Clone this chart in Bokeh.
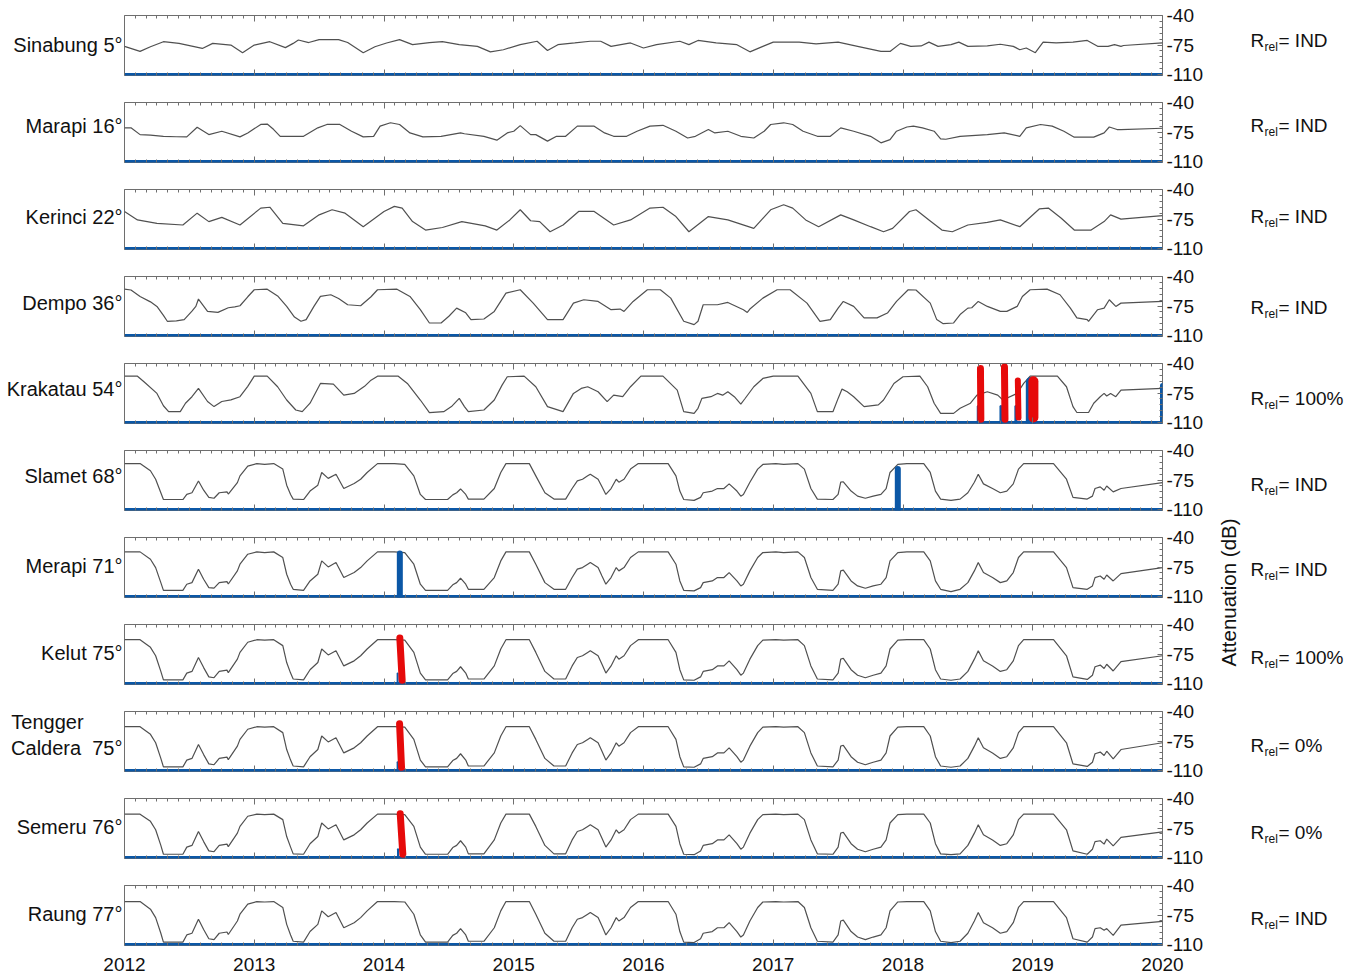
import math
from bokeh.plotting import figure
from bokeh.models import Range1d, FixedTicker, LinearAxis, Label, Span
from bokeh.layouts import column, row
from bokeh.embed import file_html
from bokeh.resources import INLINE

# ---------------- data ----------------
year_ticks = [2012, 2013, 2014, 2015, 2016, 2017, 2018, 2019, 2020]
year_labels = ["2012", "2013", "2014", "2015", "2016", "2017", "2018", "2019", "2020"]
db_ticks = [-110, -75, -40]
db_labels = ["-110", "-75", "-40"]
db_minor = [-103, -96, -89, -82, -68, -61, -54, -47]

names = ["Sinabung 5°", "Marapi 16°", "Kerinci 22°", "Dempo 36°", "Krakatau 54°", "Slamet 68°",
         "Merapi 71°", "Kelut 75°", "Tengger\nCaldera\u00a0 75°", "Semeru 76°", "Raung 77°"]
rrel_values = ["IND", "IND", "IND", "IND", "100%", "IND", "IND", "100%", "0%", "0%", "IND"]

sinabung_t = [2012.00, 2012.12, 2012.20, 2012.30, 2012.42, 2012.60, 2012.68, 2012.82, 2012.91, 2013.00, 2013.12, 2013.24,
              2013.30, 2013.34, 2013.42, 2013.50, 2013.65, 2013.72, 2013.84, 2013.93, 2014.02, 2014.12, 2014.22, 2014.35,
              2014.45, 2014.58, 2014.72, 2014.82, 2014.92, 2015.05, 2015.18, 2015.26, 2015.34, 2015.47, 2015.59, 2015.67,
              2015.75, 2015.90, 2016.00, 2016.10, 2016.28, 2016.35, 2016.42, 2016.56, 2016.72, 2016.82, 2016.92, 2017.00,
              2017.20, 2017.33, 2017.50, 2017.65, 2017.83, 2017.90, 2017.98, 2018.06, 2018.14, 2018.20, 2018.27, 2018.37,
              2018.43, 2018.50, 2018.65, 2018.75, 2018.85, 2018.90, 2018.95, 2019.02, 2019.08, 2019.18, 2019.31, 2019.42,
              2019.50, 2019.58, 2019.63, 2019.68, 2019.70, 2020.00]
sinabung_db = [-76.5, -82.5, -77, -71, -73, -79, -73, -75, -84, -75, -71, -78, -73, -69, -72, -68.5, -68.5, -72, -84, -77,
               -72.5, -68.5, -74.5, -72, -71, -74.5, -76.5, -83, -80.5, -74.5, -70.5, -81.5, -74.5, -72.5, -70.5, -70.5,
               -76.5, -72.5, -78.5, -74.5, -70.5, -74.5, -69.5, -72.5, -74.5, -83, -76.5, -71.5, -71.5, -73.5, -71.5,
               -76.5, -82.5, -82.5, -73, -76.5, -76, -71.5, -76.5, -74.5, -71.5, -76.5, -76, -74, -76.5, -80.5, -78.5,
               -84, -71.5, -72.5, -71.5, -69.5, -76.5, -76.5, -74.5, -76.5, -75.5, -72.5]

marapi_t = [2012.00, 2012.05, 2012.12, 2012.20, 2012.30, 2012.40, 2012.48, 2012.56, 2012.65, 2012.75, 2012.89, 2012.95,
            2013.05, 2013.10, 2013.15, 2013.20, 2013.38, 2013.49, 2013.56, 2013.66, 2013.75, 2013.84, 2013.92, 2013.97,
            2014.05, 2014.12, 2014.20, 2014.30, 2014.44, 2014.59, 2014.62, 2014.77, 2014.87, 2014.95, 2015.00, 2015.05,
            2015.13, 2015.17, 2015.26, 2015.33, 2015.40, 2015.49, 2015.62, 2015.70, 2015.77, 2015.87, 2015.95, 2016.05,
            2016.15, 2016.25, 2016.34, 2016.40, 2016.50, 2016.55, 2016.65, 2016.75, 2016.85, 2016.93, 2016.98, 2017.08,
            2017.15, 2017.23, 2017.34, 2017.44, 2017.52, 2017.62, 2017.75, 2017.83, 2017.90, 2017.95, 2018.03, 2018.08,
            2018.15, 2018.24, 2018.29, 2018.33, 2018.44, 2018.65, 2018.78, 2018.90, 2018.95, 2019.06, 2019.15, 2019.24,
            2019.32, 2019.47, 2019.55, 2019.59, 2019.65, 2019.68, 2020.00]
marapi_db = [-70, -70, -78, -78.5, -80, -80.5, -80.7, -69.3, -78, -74, -80.7, -76, -66, -65.5, -72, -80, -80, -70, -66,
             -66, -74, -80.7, -80, -68, -64, -66, -76, -80.7, -80, -76, -77, -80, -84.6, -76, -74, -67.4, -78, -78,
             -85.7, -80, -80, -68, -68, -76, -80, -80, -74, -68, -67, -74, -82, -80, -72, -76, -74, -80, -82, -74, -66,
             -64, -66, -74, -80, -80, -70, -74, -80, -87.7, -84, -74, -69, -68, -70, -74, -83, -83.5, -80, -78, -76,
             -80, -70, -66, -68, -74, -81, -81, -76, -69, -72, -72, -70.5]

kerinci_t = [2012.0, 2012.1, 2012.25, 2012.45, 2012.56, 2012.65, 2012.75, 2012.89, 2013.05, 2013.12, 2013.22, 2013.38,
             2013.5, 2013.6, 2013.7, 2013.84, 2014.0, 2014.08, 2014.14, 2014.22, 2014.32, 2014.45, 2014.6, 2014.78,
             2014.87, 2014.97, 2015.05, 2015.13, 2015.2, 2015.28, 2015.38, 2015.5, 2015.62, 2015.77, 2015.9, 2016.05,
             2016.15, 2016.25, 2016.35, 2016.5, 2016.65, 2016.85, 2016.98, 2017.08, 2017.15, 2017.25, 2017.35, 2017.52,
             2017.62, 2017.75, 2017.85, 2017.92, 2018.05, 2018.1, 2018.2, 2018.3, 2018.38, 2018.5, 2018.65, 2018.75,
             2018.9, 2019.05, 2019.12, 2019.22, 2019.32, 2019.45, 2019.55, 2019.6, 2019.68, 2020.0]
kerinci_db = [-66, -76, -80, -82, -68, -78, -73, -82, -62, -61, -80, -83, -70, -64, -68, -84, -66, -60, -62, -78, -88,
              -85, -78, -83, -88, -76, -64, -77, -78, -90, -82, -66, -66, -82, -76, -62, -61, -72, -90, -72, -76, -86,
              -64, -58, -62, -76, -84, -70, -76, -84, -90, -86, -66, -64, -76, -88, -90, -82, -79, -76, -84, -63, -62,
              -74, -88, -88, -78, -70, -75, -71]

dempo_t = [2012.00, 2012.05, 2012.12, 2012.20, 2012.25, 2012.30, 2012.33, 2012.40, 2012.46, 2012.52, 2012.55, 2012.57,
           2012.61, 2012.64, 2012.72, 2012.80, 2012.85, 2012.89, 2012.95, 2013.00, 2013.10, 2013.18, 2013.25, 2013.31,
           2013.36, 2013.40, 2013.46, 2013.51, 2013.59, 2013.65, 2013.72, 2013.82, 2013.90, 2013.95, 2014.10, 2014.20,
           2014.28, 2014.35, 2014.44, 2014.50, 2014.56, 2014.63, 2014.67, 2014.77, 2014.85, 2014.94, 2015.05, 2015.15,
           2015.26, 2015.38, 2015.46, 2015.54, 2015.65, 2015.75, 2015.82, 2015.85, 2015.92, 2016.03, 2016.13, 2016.21,
           2016.31, 2016.39, 2016.42, 2016.46, 2016.57, 2016.65, 2016.77, 2016.80, 2016.82, 2016.92, 2017.03, 2017.13,
           2017.26, 2017.36, 2017.44, 2017.50, 2017.54, 2017.62, 2017.70, 2017.80, 2017.88, 2017.95, 2018.04, 2018.10,
           2018.21, 2018.26, 2018.31, 2018.39, 2018.44, 2018.50, 2018.53, 2018.58, 2018.65, 2018.75, 2018.80, 2018.88,
           2018.92, 2018.98, 2019.11, 2019.21, 2019.29, 2019.34, 2019.42, 2019.43, 2019.50, 2019.55, 2019.59, 2019.64,
           2019.68, 2020.00]
dempo_db = [-55, -56, -63.6, -70, -75.4, -86, -93, -92.5, -91, -81, -75.4, -66.7, -75, -81.3, -82.5, -77, -76, -74.6,
            -64, -55.7, -55, -63, -75.4, -88, -93, -91, -75.4, -63.6, -61.6, -66, -73.4, -74.6, -64, -55.7, -55, -63.6,
            -79.3, -95, -95, -87, -77.4, -83, -91, -90.3, -81.3, -59.7, -55.7, -71.5, -91, -91, -71.5, -67.5, -69.5,
            -79.3, -78.5, -81.3, -69.5, -55.7, -55.7, -65.6, -93, -97, -93, -73.4, -73.4, -70.7, -79.3, -82.5, -78.5,
            -65.6, -55.7, -55.7, -71.5, -93, -91, -77.4, -69.5, -75.4, -89, -89, -83.2, -69.5, -55.7, -56, -71.5, -91,
            -95.8, -95, -85, -77.4, -77, -69.5, -75.4, -81.3, -81.3, -75.4, -63.6, -55.7, -55, -61.6, -77.4, -89, -91,
            -93, -79.3, -77.4, -67.5, -75.4, -71.5, -69.5]

krakatau_t = [2012.00, 2012.10, 2012.15, 2012.25, 2012.30, 2012.34, 2012.43, 2012.47, 2012.52, 2012.57, 2012.64,
              2012.69, 2012.75, 2012.82, 2012.89, 2012.95, 2013.00, 2013.10, 2013.18, 2013.25, 2013.32, 2013.37,
              2013.43, 2013.51, 2013.61, 2013.69, 2013.77, 2013.85, 2013.90, 2013.95, 2014.11, 2014.18, 2014.28,
              2014.35, 2014.46, 2014.52, 2014.58, 2014.62, 2014.65, 2014.77, 2014.85, 2014.91, 2014.95, 2015.08,
              2015.17, 2015.26, 2015.38, 2015.46, 2015.52, 2015.57, 2015.65, 2015.72, 2015.77, 2015.84, 2015.90,
              2015.98, 2016.15, 2016.26, 2016.31, 2016.39, 2016.42, 2016.45, 2016.52, 2016.57, 2016.61, 2016.65,
              2016.70, 2016.75, 2016.78, 2016.85, 2016.92, 2017.00, 2017.19, 2017.29, 2017.34, 2017.46, 2017.50,
              2017.53, 2017.57, 2017.62, 2017.70, 2017.81, 2017.85, 2017.93, 2018.00, 2018.13, 2018.19, 2018.24,
              2018.29, 2018.39, 2018.44, 2018.52, 2018.57, 2018.65, 2018.73, 2018.77, 2018.88, 2018.93, 2018.98,
              2019.19, 2019.26, 2019.31, 2019.34, 2019.43, 2019.47, 2019.52, 2019.55, 2019.57, 2019.60, 2019.64,
              2019.68, 2020.00]
krakatau_db = [-55, -55, -61.6, -75.4, -90, -97, -97, -87, -79.3, -69.5, -85, -91, -85, -83, -79.3, -67, -55, -55,
               -67.5, -83.2, -95, -97, -87, -63.6, -64.4, -77.4, -75.4, -67, -59.7, -55, -55, -63.6, -83.2, -98.2, -97,
               -91, -81.3, -91, -97, -95, -83.2, -65.6, -55.7, -55, -67.5, -91, -97, -75.4, -69.5, -67.5, -73.4, -85.2,
               -77.4, -79.3, -67.5, -55, -55, -71.5, -97, -99, -93, -81.3, -79.3, -75.4, -77.5, -73.4, -79.3, -88, -82,
               -67.5, -57.7, -55, -55, -75.4, -97, -97, -81.3, -70.3, -73.4, -79.3, -91, -89, -83.2, -63.6, -55.7, -55,
               -67.5, -87, -99, -99, -93, -87, -77.4, -73.4, -77.4, -83.2, -75.4, -63.6, -55, -55, -67.5, -91, -98,
               -98, -87, -79.3, -75.4, -78.5, -75.4, -79.3, -71.5, -69.5]

java_t = [2012.00, 2012.12, 2012.20, 2012.24, 2012.28, 2012.30, 2012.45, 2012.48, 2012.52, 2012.57, 2012.61, 2012.65,
          2012.69, 2012.73, 2012.79, 2012.80, 2012.87, 2012.89, 2012.95, 2013.02, 2013.08, 2013.15, 2013.22, 2013.25,
          2013.28, 2013.30, 2013.38, 2013.43, 2013.49, 2013.52, 2013.57, 2013.63, 2013.69, 2013.77, 2013.82, 2013.87,
          2013.95, 2014.08, 2014.16, 2014.23, 2014.28, 2014.32, 2014.49, 2014.53, 2014.56, 2014.59, 2014.63, 2014.65,
          2014.77, 2014.85, 2014.90, 2014.94, 2015.12, 2015.17, 2015.24, 2015.31, 2015.40, 2015.45, 2015.49, 2015.53,
          2015.57, 2015.59, 2015.65, 2015.68, 2015.71, 2015.75, 2015.79, 2015.81, 2015.85, 2015.90, 2015.96, 2016.19,
          2016.25, 2016.28, 2016.31, 2016.39, 2016.44, 2016.46, 2016.53, 2016.57, 2016.62, 2016.66, 2016.72, 2016.75,
          2016.77, 2016.82, 2016.88, 2016.92, 2017.02, 2017.08, 2017.19, 2017.24, 2017.29, 2017.34, 2017.46, 2017.50,
          2017.52, 2017.54, 2017.60, 2017.65, 2017.71, 2017.77, 2017.83, 2017.87, 2017.90, 2017.96, 2018.03, 2018.16,
          2018.21, 2018.25, 2018.29, 2018.37, 2018.44, 2018.50, 2018.55, 2018.58, 2018.62, 2018.69, 2018.75, 2018.80,
          2018.85, 2018.89, 2018.93, 2019.16, 2019.26, 2019.31, 2019.42, 2019.46, 2019.48, 2019.52, 2019.55, 2019.57,
          2019.62, 2019.68, 2020.00]

slamet_db = [-55.5, -55.5, -64, -74, -90, -98, -98, -92, -90, -76, -87, -95.5, -96.5, -90, -89, -91.5, -78, -70, -58.5,
             -55.5, -56.5, -55.5, -62, -81, -92, -97.5, -98, -88, -81, -66, -73, -68, -85, -79, -74, -66, -55.5, -55.5,
             -56.5, -70, -92, -98, -98, -92.5, -90, -85.5, -92, -97.5, -97.5, -85, -66, -55.5, -55.5, -70, -90, -97.5,
             -97.5, -85, -76, -74, -70, -68, -74, -83, -92, -85, -74, -77.5, -74, -62, -55.5, -55.5, -70, -88, -98,
             -99, -95.5, -90, -88, -85, -85, -79.5, -88, -94, -92, -77.5, -62, -56.5, -55.5, -56.5, -55.5, -62, -85,
             -97.5, -98, -92, -77.5, -77, -88, -94, -96.5, -94, -92, -85, -66, -56.5, -55.5, -55.5, -66, -88, -97.5,
             -99, -97.5, -90, -77.5, -68, -79.5, -85, -90, -88, -79.5, -62, -55.5, -55.5, -74, -95.5, -97.5, -94, -85,
             -83, -87, -82, -89, -85, -78]
merapi_db = [-57, -57, -65.7, -75.6, -93.4, -102.5, -102.5, -95.3, -93.4, -77.5, -89.4, -99.3, -100, -93.4, -92.2, -95,
             -79.5, -71.6, -59.8, -57, -57.8, -57, -63.7, -83.5, -95.3, -101.3, -102.5, -91.4, -83.5, -67.7, -74.8,
             -69.6, -87.4, -81.5, -75.6, -67.7, -57, -57, -57.8, -71.6, -95.3, -102.5, -102.5, -96, -93.4, -88.2,
             -95.3, -101.3, -101.3, -87.4, -67.7, -57, -57, -71.6, -93.4, -101.3, -101.3, -87.4, -77.5, -75.6, -71.6,
             -69.6, -75.6, -85.5, -95.3, -87.4, -75.6, -79.5, -75.6, -63.7, -57, -57, -71.6, -91.4, -102.5, -103.2,
             -99.3, -93.4, -91.4, -87.4, -87.4, -81.5, -91.4, -97.3, -95.3, -79.5, -63.7, -57.8, -57, -57.8, -57,
             -63.7, -87.4, -101.3, -102.5, -95.3, -79.5, -78.7, -91.4, -97.3, -100, -97.3, -95.3, -87.4, -67.7, -57.8,
             -57, -57, -67.7, -91.4, -101.3, -104, -101.3, -93.4, -79.5, -69.6, -81.5, -87.4, -93.4, -91.4, -81.5,
             -63.7, -57, -57, -75.6, -99.3, -101.3, -97.3, -87.4, -85.5, -89.4, -84.3, -91.4, -82.7, -75.6]
kelut_db = [-58, -58, -67, -77, -95.5, -105.5, -105.5, -97.5, -95.5, -79, -91, -102, -103, -95.5, -94, -97, -81, -73,
            -61, -58, -58.5, -58, -65, -85, -97.5, -104.5, -105.5, -93.5, -85, -69, -76, -71, -89, -83, -77, -69, -58,
            -58, -58.5, -73, -97.5, -105.5, -105.5, -98, -95.5, -90, -97.5, -104.5, -104.5, -89, -69, -58, -58, -73,
            -95.5, -104.5, -104.5, -89, -79, -77, -73, -71, -77, -87, -97.5, -89, -77, -81, -77, -65, -58, -58, -73,
            -93.5, -105.5, -106, -102, -95.5, -93.5, -89, -89, -83, -93.5, -100, -97.5, -81, -65, -58.5, -58, -58.5,
            -58, -65, -89, -104.5, -105.5, -97.5, -81, -80, -93.5, -100, -103, -100, -97.5, -89, -69, -58.5, -58, -58,
            -69, -93.5, -104.5, -106, -104.5, -95.5, -81, -71, -83, -89, -95.5, -93.5, -83, -65, -58, -58, -77, -102,
            -105, -100, -90, -88, -92, -87, -95, -84, -77]
tengger_db = [-58, -58, -67, -77, -95.5, -105.5, -105.5, -97.5, -95.5, -79, -91, -102, -103, -95.5, -94, -97, -81, -73,
              -61, -58, -58.5, -58, -65, -85, -97.5, -104.5, -105.5, -93.5, -85, -69, -76, -71, -89, -83, -77, -69,
              -58, -58, -58.5, -73, -97.5, -105.5, -105.5, -98, -95.5, -90, -97.5, -104.5, -104.5, -89, -69, -58, -58,
              -73, -95.5, -104.5, -104.5, -89, -79, -77, -73, -71, -77, -87, -97.5, -89, -77, -81, -77, -65, -58, -58,
              -73, -93.5, -105.5, -106, -102, -95.5, -93.5, -89, -89, -83, -93.5, -100, -97.5, -81, -65, -58.5, -58,
              -58.5, -58, -65, -89, -104.5, -105.5, -97.5, -81, -80, -93.5, -100, -103, -100, -97.5, -89, -69, -58.5,
              -58, -58, -69, -93.5, -104.5, -106, -104.5, -95.5, -81, -71, -83, -89, -95.5, -93.5, -83, -65, -58, -58,
              -77, -102, -105, -100, -90, -88, -92, -87, -96, -85, -77]
semeru_db = [-58.5, -58.5, -67, -77, -95.5, -106, -106, -97.5, -95.5, -79, -91, -102, -103, -95.5, -94, -97, -81, -73,
             -61, -58.5, -59, -58.5, -65, -85, -97.5, -105.5, -106, -93.5, -85, -69, -76, -71, -89, -83, -77, -69,
             -58.5, -58.5, -59, -73, -97.5, -106, -106, -98, -95.5, -90, -97.5, -105.5, -105.5, -89, -69, -58.5,
             -58.5, -73, -95.5, -105.5, -105.5, -89, -79, -77, -73, -71, -77, -87, -97.5, -89, -77, -81, -77, -65,
             -58.5, -58.5, -73, -93.5, -106, -106.5, -102, -95.5, -93.5, -89, -89, -83, -93.5, -100, -97.5, -81, -65,
             -59, -58.5, -59, -58.5, -65, -89, -105.5, -106, -97.5, -81, -80, -93.5, -100, -103, -100, -97.5, -89, -69,
             -59, -58.5, -58.5, -69, -93.5, -105.5, -106.5, -105.5, -95.5, -81, -71, -83, -89, -95.5, -93.5, -83, -65,
             -58.5, -58.5, -77, -102, -106, -100, -91, -90, -94, -88, -96, -86, -79.5]
raung_db = [-59, -59, -68, -78, -96.5, -107, -107, -98.5, -96.5, -80, -92, -103, -104, -96.5, -95, -98, -82, -74, -62,
            -59, -59.5, -59, -66, -86, -98.5, -106, -107, -94.5, -86, -70, -77, -72, -90, -84, -78, -70, -59, -59,
            -59.5, -74, -98.5, -107, -107, -99, -96.5, -91, -98.5, -106, -106, -90, -70, -59, -59, -74, -96.5, -106,
            -106, -90, -80, -78, -74, -72, -78, -88, -98.5, -90, -78, -82, -78, -66, -59, -59, -74, -94.5, -107,
            -107.5, -103, -96.5, -94.5, -90, -90, -84, -94.5, -101, -98.5, -82, -66, -59.5, -59, -59.5, -59, -66, -90,
            -106, -107, -98.5, -82, -81, -94.5, -101, -104, -101, -98.5, -90, -70, -59.5, -59, -59, -70, -94.5, -106,
            -107.5, -106, -96.5, -82, -72, -84, -90, -96.5, -94.5, -84, -66, -59, -59, -78, -103, -107, -101, -91,
            -90, -93, -91, -99, -87, -82.5]

# blue (detected) events: date, peak dB ; red (eruption) marks: top date, bottom date, top dB, bottom dB
krakatau_blue_t = [2018.58, 2018.755, 2018.87, 2018.985, 2020.0]
krakatau_blue_top = [-91, -91, -91, -62, -66]
slamet_blue_t = [2017.96]
slamet_blue_top = [-62]
merapi_blue_t = [2014.122]
merapi_blue_top = [-59]
kelut_blue_t = [2014.105]
kelut_blue_top = [-98]
tengger_blue_t = [2014.105]
tengger_blue_top = [-100]
semeru_blue_t = [2014.108]
semeru_blue_top = [-100]

krakatau_red_t0 = [2018.597, 2018.782, 2018.885, 2019.005]
krakatau_red_t1 = [2018.600, 2018.786, 2018.890, 2019.005]
krakatau_red_top = [-46, -44, -60, -61]
krakatau_red_bot = [-106, -106, -104, -104]
kelut_red_t0 = [2014.122]
kelut_red_t1 = [2014.140]
kelut_red_top = [-56]
kelut_red_bot = [-106]
tengger_red_t0 = [2014.120]
tengger_red_t1 = [2014.135]
tengger_red_top = [-54.5]
tengger_red_bot = [-106]
semeru_red_t0 = [2014.125]
semeru_red_t1 = [2014.145]
semeru_red_top = [-58]
semeru_red_bot = [-106]

for a, b in [(sinabung_t, sinabung_db), (marapi_t, marapi_db), (kerinci_t, kerinci_db), (dempo_t, dempo_db),
             (krakatau_t, krakatau_db), (java_t, slamet_db), (java_t, merapi_db), (java_t, kelut_db),
             (java_t, tengger_db), (java_t, semeru_db), (java_t, raung_db)]:
    assert len(a) == len(b), (len(a), len(b))

series = [
    (sinabung_t, sinabung_db, None, None),
    (marapi_t, marapi_db, None, None),
    (kerinci_t, kerinci_db, None, None),
    (dempo_t, dempo_db, None, None),
    (krakatau_t, krakatau_db, (krakatau_blue_t, krakatau_blue_top),
     (krakatau_red_t0, krakatau_red_t1, krakatau_red_top, krakatau_red_bot)),
    (java_t, slamet_db, (slamet_blue_t, slamet_blue_top), None),
    (java_t, merapi_db, (merapi_blue_t, merapi_blue_top), None),
    (java_t, kelut_db, (kelut_blue_t, kelut_blue_top), (kelut_red_t0, kelut_red_t1, kelut_red_top, kelut_red_bot)),
    (java_t, tengger_db, (tengger_blue_t, tengger_blue_top),
     (tengger_red_t0, tengger_red_t1, tengger_red_top, tengger_red_bot)),
    (java_t, semeru_db, (semeru_blue_t, semeru_blue_top),
     (semeru_red_t0, semeru_red_t1, semeru_red_top, semeru_red_bot)),
    (java_t, raung_db, None, None),
]

# ---------------- style / layout ----------------
FONT = "Liberation Sans"
GRAY = "#505050"
BLUE = "#0b57a6"
RED = "#e60a0a"
FRAME = "#6e6e6e"
TXT = "#111111"
FS = "19px"
NAME_FS = "20px"
N = len(names)
month_ticks = [y + m / 12 for y in range(2012, 2020) for m in range(1, 12)]
blue_widths = {4: [3, 3, 3, 10, 5], 5: [6], 6: [6], 7: [2], 8: [2], 9: [2]}
red_widths = {4: [7, 7, 6, 10], 7: [7], 8: [7], 9: [7]}
name_offset = [29, 23, 27, 26, 25, 25, 28, 28, (10, 36), 28, 28]  # px below frame top
PANEL_STEP = 87
FIRST_TOP = 15
DB_PER_PX = 71 / 60


def style_x(ax, show):
    ax.ticker = FixedTicker(ticks=year_ticks, minor_ticks=month_ticks)
    ax.axis_line_color = None
    ax.major_tick_line_color = FRAME
    ax.minor_tick_line_color = FRAME
    ax.major_tick_in = 6
    ax.major_tick_out = 0
    ax.minor_tick_in = 3
    ax.minor_tick_out = 0
    if show:
        ax.major_label_text_font = FONT
        ax.major_label_text_font_size = FS
        ax.major_label_text_color = TXT
        ax.major_label_standoff = 12
        ax.major_label_overrides = {y: s for y, s in zip(year_ticks, year_labels)}
    else:
        ax.major_label_text_font_size = "0px"
        ax.major_label_text_color = None
        ax.major_label_standoff = 0


panels = []
for i in range(N):
    t, db, blue, red = series[i]
    first, last = i == 0, i == N - 1
    p = figure(frame_width=1038, frame_height=60, x_range=Range1d(2012, 2020), y_range=Range1d(-111, -40),
               y_axis_location="right", output_backend="svg", toolbar_location=None,
               min_border_left=124, min_border_right=55,
               min_border_top=FIRST_TOP if first else 14, min_border_bottom=31 if last else 13,
               background_fill_color="white", border_fill_color="white")
    p.grid.visible = False
    p.outline_line_color = FRAME
    p.outline_line_width = 1
    style_x(p.xaxis[0], last)
    above = LinearAxis()
    style_x(above, False)
    p.add_layout(above, "above")
    ya = p.yaxis[0]
    ya.ticker = FixedTicker(ticks=db_ticks, minor_ticks=db_minor)
    ya.major_label_overrides = {v: s for v, s in zip(db_ticks, db_labels)}
    ya.axis_line_color = None
    ya.major_tick_line_color = FRAME
    ya.minor_tick_line_color = FRAME
    ya.major_tick_in = 5
    ya.major_tick_out = 0
    ya.minor_tick_in = 3
    ya.minor_tick_out = 0
    ya.major_label_text_font = FONT
    ya.major_label_text_font_size = FS
    ya.major_label_text_color = TXT
    ya.major_label_standoff = 4

    # volcano name as a left-hand axis label (one tick per text line)
    lines = names[i].split("\n")
    offs = name_offset[i] if isinstance(name_offset[i], tuple) else (name_offset[i],)
    if len(lines) > 1:
        # left-aligned block: pad the shorter first line with no-break spaces
        lines = [lines[0] + "\u00a0" * 7, lines[1]]
    pos = [-40 - o * DB_PER_PX for o in offs]
    la = LinearAxis(ticker=FixedTicker(ticks=pos, minor_ticks=[]),
                    major_label_overrides={v: s for v, s in zip(pos, lines)})
    la.axis_line_color = None
    la.major_tick_line_color = None
    la.major_tick_in = 0
    la.major_tick_out = 0
    la.major_label_standoff = 2
    la.major_label_text_font = FONT
    la.major_label_text_font_size = NAME_FS
    la.major_label_text_color = TXT
    p.add_layout(la, "left")

    p.add_layout(Span(location=-110, dimension="width", line_color=BLUE, line_width=3.5, level="underlay"))
    p.line(t, db, line_color=GRAY, line_width=1.2)
    if blue is not None:
        bt, btop = blue
        p.segment(x0=bt, y0=[-110] * len(bt), x1=bt, y1=btop, line_color=BLUE,
                  line_width=blue_widths[i], line_cap="round")
    if red is not None:
        r0, r1, rtop, rbot = red
        p.segment(x0=r0, y0=rtop, x1=r1, y1=rbot, line_color=RED, line_width=red_widths[i], line_cap="round")
    panels.append(p)

# side strip with R_rel annotations and the axis title
SIDE_H = 976
side = figure(width=140, height=SIDE_H, x_range=Range1d(0, 1), y_range=Range1d(0, 1), output_backend="svg",
              toolbar_location=None, min_border=0, x_axis_location=None, y_axis_location=None,
              outline_line_color=None, background_fill_color="white", border_fill_color="white")
side.grid.visible = False
rrel_offset = [25, 23, 27, 31, 35, 34, 32, 33, 34, 34, 33]  # px below panel top
for i in range(N):
    yc = FIRST_TOP + PANEL_STEP * i + rrel_offset[i]
    side.add_layout(Label(x=33, y=SIDE_H - yc, x_units="screen", y_units="screen", text="R",
                          text_align="left", text_baseline="middle", text_font=FONT, text_font_size=FS,
                          text_color=TXT))
    side.add_layout(Label(x=47, y=SIDE_H - yc - 6, x_units="screen", y_units="screen", text="rel",
                          text_align="left", text_baseline="middle", text_font=FONT, text_font_size="12px",
                          text_color=TXT))
    side.add_layout(Label(x=61, y=SIDE_H - yc, x_units="screen", y_units="screen", text="= " + rrel_values[i],
                          text_align="left", text_baseline="middle", text_font=FONT, text_font_size=FS,
                          text_color=TXT))
side.add_layout(Label(x=11, y=SIDE_H - 592, x_units="screen", y_units="screen", text="Attenuation (dB)",
                      angle=math.pi / 2, text_align="center", text_baseline="middle", text_font=FONT,
                      text_font_size="20.5px", text_color=TXT))

layout = row(column(*panels), side)
open("out.html", "w").write(file_html(layout, INLINE))
